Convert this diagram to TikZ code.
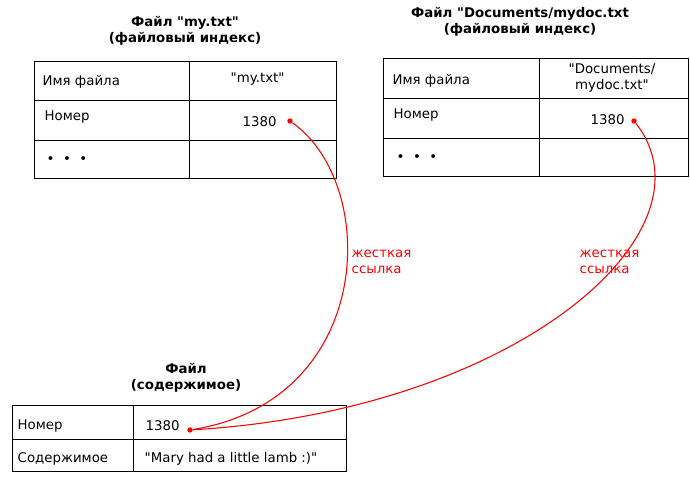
\documentclass[tikz,border=0pt]{standalone}
\usepackage{fontspec}
\setmainfont{DejaVu Sans}[Ligatures=TeXOff]
\usetikzlibrary{positioning}
\tikzset{
  cell/.style={anchor=west,font=\fontsize{10}{12}\selectfont},
  title/.style={font=\bfseries\fontsize{10}{12}\selectfont,align=center},
  dot/.style={circle,fill=red,inner sep=0pt,minimum size=4pt},
  link/.style={red,thick,-}
}
\begin{document}
\begin{tikzpicture}[x=0.75pt,y=-0.75pt]
\useasboundingbox (0,0) rectangle (690,477);

% index of my.txt
\node[title] (t1) at (185,31) {Файл "my.txt"\\(файловый индекс)};
\draw (34,61) rectangle (336,178);
\draw (34,100) -- (336,100) (34,140) -- (336,140) (189,61) -- (189,178);
\node[cell] (n1a) at (38,82) {Имя файла};
\node[cell] (n1b) at (226,79) {"my.txt"};
\node[cell] (n1c) at (40,117) {Номер};
\node[cell] (n1d) at (238,122) {1380};
\node[cell] (n1e) at (42,160) {\textbullet\ \ \textbullet\ \ \textbullet};
\node[dot] (d1) at (290,121) {};

% index of Documents/mydoc.txt
\node[title] (t2) at (520,22) {Файл "Documents/mydoc.txt\\(файловый индекс)};
\draw (383,58) rectangle (688,176);
\draw (383,98) -- (688,98) (383,138) -- (688,138) (539,58) -- (539,176);
\node[cell] (n2a) at (388,81) {Имя файла};
\node[cell,align=center,anchor=center] (n2b) at (612,78) {"Documents/\\mydoc.txt"};
\node[cell] (n2c) at (389,115) {Номер};
\node[cell] (n2d) at (586,120) {1380};
\node[cell] (n2e) at (392,158) {\textbullet\ \ \textbullet\ \ \textbullet};
\node[dot] (d2) at (634,121) {};

% file contents
\node[title] (t3) at (186,378) {Файл\\(содержимое)};
\draw (12,405) rectangle (346,471);
\draw (12,439) -- (346,439) (133,405) -- (133,471);
\node[cell] (n3a) at (13,426) {Номер};
\node[cell] (n3b) at (141,426) {1380};
\node[cell] (n3c) at (13,459) {Содержимое};
\node[cell] (n3d) at (140,459) {"Mary had a little lamb :)"};
\node[dot] (d3) at (190,430) {};

% hard links
\draw[link] (d1) .. controls (380,185) and (375,400) .. (d3);
\draw[link] (d2) .. controls (720,230) and (520,410) .. (d3);
\node[cell,red,align=left] (l1) at (347,262) {жесткая\\ссылка};
\node[cell,red,align=left] (l2) at (575,262) {жесткая\\ссылка};
\end{tikzpicture}
\end{document}
